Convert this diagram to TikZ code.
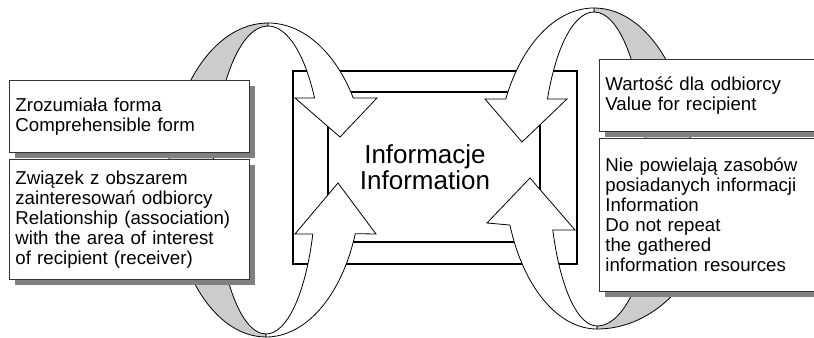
\documentclass[tikz,border=0pt]{standalone}
\usepackage{fontspec}
\setmainfont{Liberation Sans}
\definecolor{ringgray}{RGB}{204,204,204}
\definecolor{shadowgray}{RGB}{128,128,128}
\usetikzlibrary{positioning,shadows}

\begin{document}
\begin{tikzpicture}[
    x=0.75pt, y=0.75pt,
    frameline/.style={draw=black, line width=1.5pt},
    ringback/.style={fill=ringgray, draw=black, line width=0.6pt},
    ringarrow/.style={fill=white, draw=black, line width=0.6pt, line join=miter},
    infobox/.style={
      draw=black!80, fill=white, line width=0.6pt,
      minimum width=180pt, text width=171pt, inner xsep=4.5pt,
      align=left, font=\fontsize{14}{15}\selectfont,
      drop shadow={shadow xshift=4.5pt, shadow yshift=-4.5pt,
                   fill=shadowgray, opacity=1}
    }
  ]
  \useasboundingbox (0,0) rectangle (814,338);
  \clip (0,0) rectangle (814,338);

  % centre frame
  \draw[frameline] (293,74) rectangle (577,267);
  \draw[frameline] (328,96) rectangle (540,245.5);

  % ring centres
  \coordinate (lu) at (268,158);
  \coordinate (ll) at (266,158);
  \coordinate (ru) at (594,169);
  \coordinate (rl) at (597,169);

  % left ring
  \path[ringback] (268,315) arc[start angle=90, end angle=180, x radius=100, y radius=157]
    -- ([shift={(lu)}]180:55 and 154)
    arc[start angle=180, end angle=90, x radius=55, y radius=154] -- cycle;
  \path[ringback] (266,1) arc[start angle=270, end angle=180, x radius=95, y radius=157]
    -- ([shift={(ll)}]180:50 and 154)
    arc[start angle=180, end angle=270, x radius=50, y radius=154] -- cycle;
  \path[ringarrow] (268,315) arc[start angle=90, end angle=31.5, x radius=100, y radius=157]
    -- (377,240) -- (340,201) -- (295,240)
    -- ([shift={(lu)}]32.2:55 and 154)
    arc[start angle=32.2, end angle=90, x radius=55, y radius=154] -- cycle;
  \path[ringarrow] (266,1) arc[start angle=270, end angle=340, x radius=95, y radius=157]
    -- (376,104) -- (338,155) -- (295,104)
    -- ([shift={(ll)}]339.5:50 and 154)
    arc[start angle=339.5, end angle=270, x radius=50, y radius=154] -- cycle;

  % right ring
  \path[ringback] (594,330) arc[start angle=90, end angle=0, x radius=98, y radius=161]
    -- ([shift={(ru)}]0:52 and 157)
    arc[start angle=0, end angle=90, x radius=52, y radius=157] -- cycle;
  \path[ringback] (597,9) arc[start angle=270, end angle=360, x radius=123, y radius=160]
    -- ([shift={(rl)}]0:58 and 157)
    arc[start angle=360, end angle=270, x radius=58, y radius=157] -- cycle;
  \path[ringarrow] (594,330) arc[start angle=90, end angle=154.2, x radius=98, y radius=161]
    -- (485,239) -- (522,196) -- (567,239)
    -- ([shift={(ru)}]153.5:52 and 157)
    arc[start angle=153.5, end angle=90, x radius=52, y radius=157] -- cycle;
  \path[ringarrow] (597,9) arc[start angle=270, end angle=200.5, x radius=93, y radius=160]
    -- (487,115) -- (530,160) -- (575,108)
    -- ([shift={(rl)}]202.9:48 and 157)
    arc[start angle=202.9, end angle=270, x radius=48, y radius=157] -- cycle;

  \node[font=\fontsize{19.5}{17}\selectfont, align=center] (info) at (425,171)
    {Informacje\\Information};

  % text boxes
  \node[infobox, minimum height=54pt, anchor=north west] (zf) at (9,258)
    {Zrozumiała forma\\Comprehensible form};
  \node[infobox, minimum height=90pt, below=4.5pt of zf] (zw)
    {Związek z obszarem\\zainteresowań odbiorcy\\Relationship (association)\\with the area of interest\\of recipient (receiver)};

  \node[infobox, minimum height=54pt, anchor=north west] (wd) at (599,279)
    {Wartość dla odbiorcy\\Value for recipient};
  \node[infobox, minimum height=114.75pt, below=4.5pt of wd] (np)
    {Nie powielają zasobów\\posiadanych informacji\\Information\\Do not repeat\\the gathered\\information resources};
\end{tikzpicture}
\end{document}
